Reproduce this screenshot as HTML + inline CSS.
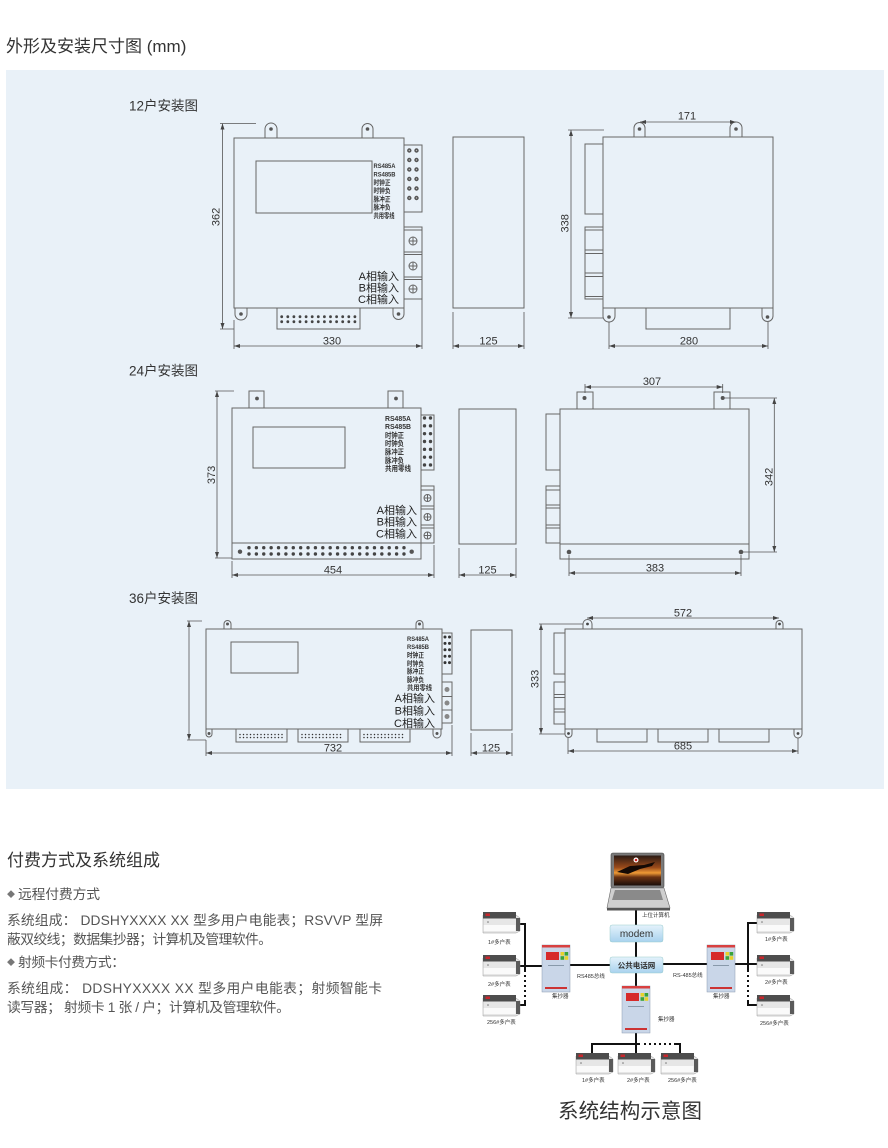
<!DOCTYPE html>
<html><head><meta charset="utf-8">
<style>
html,body{margin:0;padding:0;background:#fff;}
svg{display:block;}
text{font-family:"Liberation Sans","Noto Sans CJK SC",sans-serif;}
.sf{font-family:"Liberation Serif","Noto Serif CJK SC",serif;}
</style></head><body>
<svg width="888" height="1148" viewBox="0 0 888 1148" xmlns="http://www.w3.org/2000/svg">
<defs>
<marker id="ar" markerUnits="userSpaceOnUse" markerWidth="6" markerHeight="4" refX="6" refY="2" orient="auto-start-reverse"><path d="M0,0L6,2L0,4z" fill="#444"/></marker>
<linearGradient id="scr" x1="0" y1="0" x2="0" y2="1">
<stop offset="0" stop-color="#2a1a14"/><stop offset="0.4" stop-color="#9a4a1a"/><stop offset="0.58" stop-color="#ee9a35"/><stop offset="0.72" stop-color="#6a3212"/><stop offset="1" stop-color="#1a0d08"/>
</linearGradient>
<linearGradient id="btn" x1="0" y1="0" x2="0" y2="1">
<stop offset="0" stop-color="#e4f2fb"/><stop offset="1" stop-color="#a8d2ee"/>
</linearGradient>
<g id="meter">
<path d="M0,3L33,3L37,6L37,19L33,21L0,21Z" fill="#e6e6e6" stroke="#999" stroke-width="0.5"/>
<rect x="0" y="0" width="33" height="6.5" fill="#4d4d4d"/>
<rect x="2.5" y="1.5" width="4.5" height="2.5" fill="#c8262c"/>
<rect x="0.5" y="13" width="32" height="6" fill="#fafafa"/>
<rect x="33" y="6" width="4" height="13" fill="#5a5a5a"/>
<circle cx="5" cy="10" r="0.8" fill="#777"/>
</g>
<g id="conc">
<rect x="0" y="0" width="28" height="47" fill="#c9d6e8" stroke="#8a9ab0" stroke-width="0.5"/>
<rect x="0" y="0" width="28" height="2.5" fill="#d84040"/>
<rect x="4" y="7" width="13" height="8" fill="#d62a2a"/>
<rect x="18.5" y="7" width="3.6" height="3.6" fill="#e8d22a"/>
<rect x="22.6" y="7" width="3.6" height="3.6" fill="#3aa33a"/>
<rect x="18.5" y="11.2" width="3.6" height="3.6" fill="#3aa33a"/>
<rect x="22.6" y="11.2" width="3.6" height="3.6" fill="#e8d22a"/>
<rect x="6" y="20" width="16" height="1" fill="#8899aa"/>
<rect x="3" y="42" width="22" height="2" fill="#cc3333"/>
</g>
</defs>
<rect width="888" height="1148" fill="#fff"/>
<text x="6" y="52" font-size="17" fill="#333">外形及安装尺寸图 (mm)</text>
<rect x="6" y="70" width="878" height="719" fill="#e9f1f8"/>

<text x="129" y="110.5" font-size="13.5" fill="#333">12户安装图</text>
<text x="129" y="375.5" font-size="13.5" fill="#333">24户安装图</text>
<text x="129" y="603" font-size="13.5" fill="#333">36户安装图</text>

<!-- 12 -->
<g fill="none" stroke="#666" stroke-width="1">
<rect x="234" y="138" width="170" height="170"/>
<rect x="256" y="161" width="116" height="52"/>
<path d="M265,138V129a6,6 0 0 1 12,0V138"/>
<path d="M362,138V129a5.5,5.5 0 0 1 11,0V138"/>
<path d="M235,308V314a6,6 0 0 0 12,0V308"/>
<path d="M393,308V314a5.5,5.5 0 0 0 11,0V308"/>
<rect x="277" y="308" width="83" height="21"/>
<rect x="404" y="145" width="18" height="67"/>
<rect x="404" y="227" width="18" height="72"/>
<path d="M404,230H422M404,252H422M404,254.5H422M404,277H422M404,279.5H422"/>
<circle cx="413" cy="241" r="4"/><circle cx="413" cy="266" r="4"/><circle cx="413" cy="289" r="4"/>
<path d="M409,241h8M413,237v8M409,266h8M413,262v8M409,289h8M413,285v8"/>
</g>
<g fill="#555"><circle cx="271" cy="129" r="1.8"/><circle cx="367.5" cy="129" r="1.8"/><circle cx="241" cy="314" r="1.8"/><circle cx="398.5" cy="314" r="1.8"/></g>
<g stroke-linecap="round" fill="none">
<path d="M409.3,150.5V207.5M416.5,150.5V207.5" stroke="#555" stroke-width="4.4" stroke-dasharray="0 9.5"/>
<path d="M409.3,150.5V207.5M416.5,150.5V207.5" stroke="#bbb" stroke-width="1.4" stroke-dasharray="0 9.5"/>
<path d="M281.7,316.7H355M281.7,321.7H355" stroke="#444" stroke-width="2.8" stroke-dasharray="0 6.1"/>
</g>
<g font-size="6.8" font-weight="bold" fill="#333">
<text x="373.5" y="168" textLength="22" lengthAdjust="spacingAndGlyphs">RS485A</text>
<text x="373.5" y="176.5" textLength="22" lengthAdjust="spacingAndGlyphs">RS485B</text>
<text x="373.5" y="185" textLength="17" lengthAdjust="spacingAndGlyphs">时钟正</text>
<text x="373.5" y="193" textLength="17" lengthAdjust="spacingAndGlyphs">时钟负</text>
<text x="373.5" y="201.5" textLength="17" lengthAdjust="spacingAndGlyphs">脉冲正</text>
<text x="373.5" y="209.5" textLength="17" lengthAdjust="spacingAndGlyphs">脉冲负</text>
<text x="373.5" y="218" textLength="21" lengthAdjust="spacingAndGlyphs">共用零线</text>
</g>
<g font-size="11" fill="#222" text-anchor="end">
<text x="399" y="280">A相输入</text><text x="399" y="291.5">B相输入</text><text x="399" y="303">C相输入</text>
</g>
<rect x="453" y="137" width="71" height="171" fill="none" stroke="#666"/>
<g fill="none" stroke="#666" stroke-width="1">
<rect x="603" y="137" width="170" height="171"/>
<rect x="585" y="144" width="18" height="70"/>
<rect x="585" y="227" width="18" height="72"/>
<path d="M585,230H603M585,250H603M585,253.5H603M585,273H603M585,276.5H603M585,296.5H603"/>
<path d="M634,137V128a5.5,5.5 0 0 1 11,0V137"/>
<path d="M730,137V128a6,6 0 0 1 12,0V137"/>
<path d="M603,308V316a6,6 0 0 0 12,0V308"/>
<path d="M762,308V316a5.5,5.5 0 0 0 11,0V308"/>
<rect x="646" y="308" width="84" height="21"/>
</g>
<g fill="#555"><circle cx="639.5" cy="129" r="1.8"/><circle cx="736" cy="129" r="1.8"/><circle cx="609" cy="317" r="1.8"/><circle cx="767.5" cy="317" r="1.8"/></g>
<g stroke="#555" stroke-width="0.8" fill="none">
<line x1="222.5" y1="123.5" x2="222.5" y2="329" marker-start="url(#ar)" marker-end="url(#ar)"/>
<path d="M220,123.5H256M220,329H234M234,320V349M422,299V349M453,312V349M524,312V349M568,130H604M568,318H603M609,322V349M768,322V349"/>
<line x1="234" y1="346" x2="422" y2="346" marker-start="url(#ar)" marker-end="url(#ar)"/>
<line x1="453" y1="346" x2="524" y2="346" marker-start="url(#ar)" marker-end="url(#ar)"/>
<line x1="640" y1="122" x2="736" y2="122" marker-start="url(#ar)" marker-end="url(#ar)"/>
<line x1="571" y1="130" x2="571" y2="318" marker-start="url(#ar)" marker-end="url(#ar)"/>
<line x1="609" y1="346" x2="768" y2="346" marker-start="url(#ar)" marker-end="url(#ar)"/>
</g>
<g font-size="11" fill="#333" text-anchor="middle">
<text transform="translate(219.3,217) rotate(-90)">362</text>
<text x="332" y="344.5">330</text>
<text x="488.5" y="344.5">125</text>
<text x="687" y="119.5">171</text>
<text transform="translate(568.3,223.3) rotate(-90)">338</text>
<text x="689" y="344.5">280</text>
</g>

<!-- 24 -->
<g fill="none" stroke="#666" stroke-width="1">
<rect x="232" y="408" width="189" height="151"/>
<path d="M232,543H421"/>
<rect x="253" y="427" width="92" height="41"/>
<rect x="249" y="391" width="15" height="17"/>
<rect x="388" y="391" width="15" height="17"/>
<rect x="421" y="415" width="13" height="55"/>
<rect x="421" y="486" width="13" height="57"/>
<path d="M421,490H434M421,506H434M421,509H434M421,525H434M421,528H434"/>
<circle cx="427.5" cy="498" r="3.5"/><circle cx="427.5" cy="517" r="3.5"/><circle cx="427.5" cy="535.5" r="3.5"/>
<path d="M424,498h7M427.5,494.5v7M424,517h7M427.5,513.5v7M424,535.5h7M427.5,532v7"/>
</g>
<g fill="#555"><circle cx="257" cy="398.5" r="1.9"/><circle cx="396" cy="398.5" r="1.9"/><circle cx="240" cy="551.7" r="2.2"/><circle cx="411.7" cy="551.7" r="2.2"/></g>
<g stroke-linecap="round" fill="none">
<path d="M424.5,418V465M430.5,418V465" stroke="#444" stroke-width="3.4" stroke-dasharray="0 7.83"/>
<path d="M249,547.7H404M249,554H404" stroke="#444" stroke-width="3.4" stroke-dasharray="0 7.38"/>
</g>
<g font-size="7.5" font-weight="bold" fill="#333">
<text x="385" y="421" textLength="26" lengthAdjust="spacingAndGlyphs">RS485A</text>
<text x="385" y="429" textLength="26" lengthAdjust="spacingAndGlyphs">RS485B</text>
<text x="385" y="438" textLength="19" lengthAdjust="spacingAndGlyphs">时钟正</text>
<text x="385" y="446" textLength="19" lengthAdjust="spacingAndGlyphs">时钟负</text>
<text x="385" y="454.5" textLength="19" lengthAdjust="spacingAndGlyphs">脉冲正</text>
<text x="385" y="463" textLength="19" lengthAdjust="spacingAndGlyphs">脉冲负</text>
<text x="385" y="471" textLength="26" lengthAdjust="spacingAndGlyphs">共用零线</text>
</g>
<g font-size="11" fill="#222" text-anchor="end">
<text x="417" y="514">A相输入</text><text x="417" y="525.5">B相输入</text><text x="417" y="537.5">C相输入</text>
</g>
<rect x="459" y="409" width="57" height="135" fill="none" stroke="#666"/>
<g fill="none" stroke="#666" stroke-width="1">
<rect x="560" y="409" width="189" height="150"/>
<path d="M560,544H749"/>
<rect x="577" y="392" width="16" height="17"/>
<rect x="714" y="392" width="16" height="17"/>
<rect x="546" y="414" width="14" height="56"/>
<rect x="546" y="486" width="14" height="57"/>
<path d="M546,490H560M546,505H560M546,508H560M546,525H560M546,528H560"/>
</g>
<g fill="#555"><circle cx="584.5" cy="398" r="2"/><circle cx="722.7" cy="398" r="2"/><circle cx="569" cy="552" r="2.3"/><circle cx="741" cy="552" r="2.3"/></g>
<g stroke="#555" stroke-width="0.8" fill="none">
<line x1="217" y1="391" x2="217" y2="558" marker-start="url(#ar)" marker-end="url(#ar)"/>
<path d="M215,391H234M215,558H232M232,561V578M434,545V578M459,548V578M516,548V578M585,384V393M722.7,384V393M723,398H777M741,552H777M569,555V576M741,555V576"/>
<line x1="232" y1="575" x2="434" y2="575" marker-start="url(#ar)" marker-end="url(#ar)"/>
<line x1="459" y1="575" x2="516" y2="575" marker-start="url(#ar)" marker-end="url(#ar)"/>
<line x1="585" y1="387" x2="722.7" y2="387" marker-start="url(#ar)" marker-end="url(#ar)"/>
<line x1="774.3" y1="398" x2="774.3" y2="552" marker-start="url(#ar)" marker-end="url(#ar)"/>
<line x1="569" y1="573" x2="741" y2="573" marker-start="url(#ar)" marker-end="url(#ar)"/>
</g>
<g font-size="11" fill="#333" text-anchor="middle">
<text transform="translate(215,475) rotate(-90)">373</text>
<text x="333" y="573.5">454</text>
<text x="487.5" y="573.5">125</text>
<text x="652" y="385">307</text>
<text transform="translate(772.3,477) rotate(-90)">342</text>
<text x="655" y="571.5">383</text>
</g>

<!-- 36 -->
<g fill="none" stroke="#666" stroke-width="1">
<rect x="206" y="629" width="236" height="100"/>
<rect x="231" y="642" width="67" height="31"/>
<path d="M224,629V624a3.5,3.5 0 0 1 7,0V629"/>
<path d="M416,629V624a3.5,3.5 0 0 1 7,0V629"/>
<path d="M206,729V734a3,3 0 0 0 6,0V729"/>
<path d="M433,729V734a4,4 0 0 0 8,0V729"/>
<rect x="236" y="729" width="51" height="13"/>
<rect x="298" y="729" width="50" height="13"/>
<rect x="360" y="729" width="50" height="13"/>
<rect x="442" y="633" width="10" height="41"/>
<rect x="442" y="682" width="10" height="41"/>
<path d="M442,696.5H452M442,710H452"/>
</g>
<g fill="#555"><circle cx="227.5" cy="624" r="1.5"/><circle cx="419.5" cy="624" r="1.5"/><circle cx="209" cy="733.5" r="1.5"/><circle cx="437" cy="733.5" r="1.5"/></g>
<g fill="#888"><circle cx="447" cy="689.5" r="2.5"/><circle cx="447" cy="703" r="2.5"/><circle cx="447" cy="716.5" r="2.5"/></g>
<g stroke-linecap="round" fill="none" stroke="#333">
<path d="M445,637V669M449.5,637V669" stroke-width="3" stroke-dasharray="0 6.4"/>
<path d="M240,734.5H283M240,737.5H283M302,734.5H344M302,737.5H344M364,734.5H406M364,737.5H406" stroke-width="1.5" stroke-dasharray="0 3.5"/>
</g>
<g font-size="6.8" font-weight="bold" fill="#333">
<text x="407" y="641" textLength="22" lengthAdjust="spacingAndGlyphs">RS485A</text>
<text x="407" y="649" textLength="22" lengthAdjust="spacingAndGlyphs">RS485B</text>
<text x="407" y="657.5" textLength="17" lengthAdjust="spacingAndGlyphs">时钟正</text>
<text x="407" y="666" textLength="17" lengthAdjust="spacingAndGlyphs">时钟负</text>
<text x="407" y="673.5" textLength="17" lengthAdjust="spacingAndGlyphs">脉冲正</text>
<text x="407" y="682" textLength="17" lengthAdjust="spacingAndGlyphs">脉冲负</text>
<text x="407" y="690" textLength="25" lengthAdjust="spacingAndGlyphs">共用零线</text>
</g>
<g font-size="11" fill="#222" text-anchor="end">
<text x="435" y="702">A相输入</text><text x="435" y="714.5">B相输入</text><text x="435" y="727">C相输入</text>
</g>
<rect x="471" y="630" width="41" height="100" fill="none" stroke="#666"/>
<g fill="none" stroke="#666" stroke-width="1">
<rect x="565" y="629" width="237" height="100"/>
<rect x="554" y="633" width="11" height="41"/>
<rect x="554" y="682" width="11" height="42"/>
<path d="M554,694.5H565M554,697.5H565M554,709H565M554,712H565"/>
<path d="M583,629V624a4.5,4.5 0 0 1 9,0V629"/>
<path d="M776,629V624a3.5,3.5 0 0 1 7,0V629"/>
<path d="M565,729V734a3.5,3.5 0 0 0 7,0V729"/>
<path d="M794,729V734a4,4 0 0 0 8,0V729"/>
<rect x="597" y="729" width="50" height="13"/>
<rect x="658" y="729" width="50" height="13"/>
<rect x="719" y="729" width="50" height="13"/>
</g>
<g fill="#444"><circle cx="587.5" cy="624" r="1.4"/><circle cx="779.5" cy="624" r="1.4"/><circle cx="568.5" cy="733.5" r="1.4"/><circle cx="798" cy="733.5" r="1.4"/></g>
<g stroke="#555" stroke-width="0.8" fill="none">
<line x1="189" y1="621" x2="189" y2="740" marker-start="url(#ar)" marker-end="url(#ar)"/>
<path d="M187,621H202M187,740H206M206,740V756M452,725V756M471,733V756M512,733V756M539,624H583M539,734H565M568,738V754M798,738V754"/>
<line x1="206" y1="753" x2="452" y2="753" marker-start="url(#ar)" marker-end="url(#ar)"/>
<line x1="471" y1="753" x2="512" y2="753" marker-start="url(#ar)" marker-end="url(#ar)"/>
<line x1="587" y1="618" x2="779" y2="618" marker-start="url(#ar)" marker-end="url(#ar)"/>
<line x1="541" y1="624" x2="541" y2="734" marker-start="url(#ar)" marker-end="url(#ar)"/>
<line x1="568" y1="751" x2="798" y2="751" marker-start="url(#ar)" marker-end="url(#ar)"/>
</g>
<g font-size="11" fill="#333" text-anchor="middle">
<text x="333" y="751.5">732</text>
<text x="491" y="751.5">125</text>
<text x="683" y="616.5">572</text>
<text transform="translate(538.3,679) rotate(-90)">333</text>
<text x="683" y="749.5">685</text>
</g>

<!-- bottom text -->
<text x="7" y="866" font-size="17" fill="#333" textLength="153">付费方式及系统组成</text>
<g fill="#555" font-size="13.8" style="white-space:pre">
<text x="7" y="897" font-size="8" fill="#777">◆</text>
<text x="18" y="899" textLength="82">远程付费方式</text>
<text x="7" y="925" textLength="376">系统组成：  DDSHYXXXX XX 型多用户电能表；RSVVP 型屏</text>
<text x="7" y="944" textLength="265">蔽双绞线；数据集抄器；计算机及管理软件。</text>
<text x="7" y="965" font-size="8" fill="#777">◆</text>
<text x="18" y="967" textLength="107">射频卡付费方式：</text>
<text x="7" y="993" textLength="375">系统组成：  DDSHYXXXX   XX 型多用户电能表；射频智能卡</text>
<text x="7" y="1012" textLength="283">读写器； 射频卡 1 张 / 户；计算机及管理软件。</text>
</g>

<!-- system diagram -->
<g stroke="#111" stroke-width="2" fill="none">
<path d="M636,910V925M636,942V957M636,973V988M636,1032V1054"/>
<path d="M570,965H610M663,964H707"/>
<path d="M520,924H525V972M520,966H542"/>
<path d="M525,1000V1005H520"/>
<path d="M757,923H748V972M735,964H757"/>
<path d="M748,1000V1005H757"/>
<path d="M592,1055V1044H640M675,1044H680V1054"/>
</g>
<g stroke="#111" stroke-width="2" fill="none" stroke-dasharray="2 3">
<path d="M525,975V999M748,975V999M644,1044H675"/>
</g>
<rect x="611" y="853" width="53" height="35" rx="2" fill="#7a7a7a" stroke="#444" stroke-width="0.6"/>
<rect x="614" y="855.5" width="47" height="30" fill="url(#scr)"/>
<path d="M617,872L630,866L644,865L655,862L652,866L640,869L628,874Z" fill="#140a05"/>
<circle cx="636" cy="860" r="2.5" fill="#fff"/><circle cx="636" cy="860" r="1.3" fill="#c22"/>
<path d="M611,888L664,888L670,908L607,908Z" fill="#cfcfcf" stroke="#666" stroke-width="0.6"/>
<path d="M615,890L660,890L663,900L612,900Z" fill="#8a8a8a"/>
<rect x="607" y="908" width="63" height="2.5" fill="#555"/>
<rect x="610" y="925" width="53" height="17" rx="2" fill="url(#btn)" stroke="#9cc" stroke-width="0.5"/>
<text x="636.5" y="937" font-size="10" fill="#333" text-anchor="middle">modem</text>
<rect x="610" y="957" width="53" height="16" rx="2" fill="url(#btn)" stroke="#9cc" stroke-width="0.5"/>
<text x="636.5" y="968" font-size="7.5" font-weight="bold" fill="#333" text-anchor="middle">公共电话网</text>
<use href="#conc" x="542" y="945"/>
<use href="#conc" x="707" y="945"/>
<use href="#conc" x="622" y="986"/>
<use href="#meter" x="483" y="912"/>
<use href="#meter" x="483" y="955"/>
<use href="#meter" x="483" y="995"/>
<use href="#meter" x="757" y="912"/>
<use href="#meter" x="757" y="955"/>
<use href="#meter" x="757" y="995"/>
<use href="#meter" x="576" y="1053"/>
<use href="#meter" x="618" y="1053"/>
<use href="#meter" x="661" y="1053"/>
<g class="sf" font-size="5.5" fill="#333">
<text x="642" y="917">上位计算机</text>
<text x="577" y="978">RS485总线</text>
<text x="673" y="977">RS-485总线</text>
<text x="552" y="998">集抄器</text>
<text x="713" y="998">集抄器</text>
<text x="658" y="1021">集抄器</text>
<text x="488" y="944">1#多户表</text>
<text x="488" y="986">2#多户表</text>
<text x="487" y="1024">256#多户表</text>
<text x="765" y="941">1#多户表</text>
<text x="765" y="984">2#多户表</text>
<text x="760" y="1025">256#多户表</text>
<text x="582" y="1082">1#多户表</text>
<text x="627" y="1082">2#多户表</text>
<text x="668" y="1082">256#多户表</text>
</g>
<text x="558" y="1118" font-size="20.5" fill="#333" textLength="144">系统结构示意图</text>
</svg>
</body></html>
